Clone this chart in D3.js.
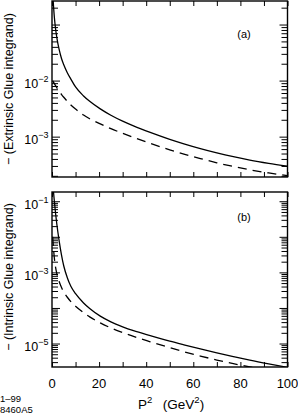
<!DOCTYPE html>
<html><head><meta charset="utf-8">
<script src="https://cdn.jsdelivr.net/npm/d3@7"></script>
<style>
body{margin:0;background:#fff;}
text{font-family:"Liberation Sans",Arial,Helvetica,sans-serif;fill:#000;}
</style></head>
<body><svg id="c" width="298" height="414"></svg>
<script>
// P^2 sample points (GeV^2)
const p2 = [0.3, 1, 1.5, 2, 3, 4, 5, 6.5, 8, 10, 13.4, 16, 20.5, 25, 30, 34.6, 41.7, 50, 56, 63, 70, 77, 84, 92, 100];
// (a) − Extrinsic glue integrand
const extrinsicSolid = [0.355, 0.135, 0.0851, 0.0603, 0.0363, 0.0251, 0.0191, 0.01377, 0.01062, 0.00769, 0.00532, 0.00427, 0.00313, 0.00241, 0.00189, 0.001556, 0.001189, 0.000895, 0.000745, 0.000612, 0.000513, 0.000438, 0.000381, 0.000333, 0.000296];
const extrinsicDashed = [0.00989, 0.00883, 0.00815, 0.00753, 0.0065, 0.00569, 0.00504, 0.00427, 0.00367, 0.0031, 0.00243, 0.00209, 0.00169, 0.00139, 0.001146, 0.000968, 0.00076, 0.000583, 0.00049, 0.000406, 0.000342, 0.000293, 0.000256, 0.000225, 0.000201];
// (b) − Intrinsic glue integrand
const intrinsicSolid = [0.316, 0.1, 0.0468, 0.024, 0.00794, 0.00316, 0.00151, 0.000708, 0.000407, 0.000251, 0.000138, 9.66e-5, 5.89e-5, 4.07e-5, 2.95e-5, 2.29e-5, 1.66e-5, 1.161e-5, 9.18e-6, 7.05e-6, 5.47e-6, 4.3e-6, 3.41e-6, 2.68e-6, 2.14e-6];
const intrinsicDashed = [0.01, 0.00251, 0.00141, 0.000955, 0.000562, 0.00038, 0.000282, 0.0002, 0.000151, 0.000112, 7.41e-5, 5.62e-5, 3.8e-5, 2.75e-5, 2.04e-5, 1.58e-5, 1.12e-5, 7.66e-6, 5.89e-6, 4.45e-6, 3.44e-6, 2.72e-6, 2.2e-6, 1.77e-6, 1.44e-6];
// tick labels
const xTicks = [0, 10, 20, 30, 40, 50, 60, 70, 80, 90, 100];
const xLabels = [0, 20, 40, 60, 80, 100];
const aLabelExp = [-2, -3];
const bLabelExp = [-1, -3, -5];

const svg = d3.select("#c");
const L = 52, R = 287.5;
const x = d3.scaleLinear().domain([0, 100]).range([L, R]);

function minorTicks(dom){
  const out = [];
  const lo = Math.floor(Math.log10(dom[0])), hi = Math.ceil(Math.log10(dom[1]));
  for (let e = lo; e <= hi; e++) for (let m = 2; m <= 9; m++) {
    const v = m * Math.pow(10, e);
    if (v >= dom[0] && v <= dom[1]) out.push(v);
  }
  return out;
}
function majorTicks(dom){
  const out = [];
  for (let e = Math.floor(Math.log10(dom[0])); e <= Math.ceil(Math.log10(dom[1])); e++) {
    const v = Math.pow(10, e);
    if (v >= dom[0] && v <= dom[1]) out.push(v);
  }
  return out;
}

function panel(top, bottom, yDom, solid, dashed, labelExp, tag, tagY, clipId){
  const y = d3.scaleLog().domain(yDom).range([bottom, top]);
  const g = svg.append("g");
  const clean = sel => { sel.select(".domain").remove(); sel.selectAll("line").attr("stroke","#000").attr("stroke-width",1); };
  // x ticks bottom & top
  g.append("g").attr("transform",`translate(0,${bottom})`)
    .call(d3.axisBottom(x).tickValues(xTicks).tickSize(-5).tickFormat(""))
    .call(clean).selectAll("text").remove();
  g.append("g").attr("transform",`translate(0,${top})`)
    .call(d3.axisTop(x).tickValues(xTicks).tickSize(-5).tickFormat(""))
    .call(clean).selectAll("text").remove();
  // y ticks left & right
  const mi = minorTicks(yDom), ma = majorTicks(yDom);
  [[d3.axisLeft, L],[d3.axisRight, R]].forEach(([ax, px]) => {
    g.append("g").attr("transform",`translate(${px},0)`)
      .call(ax(y).tickValues(mi).tickSize(-6).tickFormat("")).call(clean).selectAll("text").remove();
    g.append("g").attr("transform",`translate(${px},0)`)
      .call(ax(y).tickValues(ma).tickSize(-8).tickFormat("")).call(clean).selectAll("text").remove();
  });
  // y labels
  labelExp.forEach(e => {
    const t = g.append("text").attr("x", L - 3.5).attr("y", y(Math.pow(10, e)) + 7.5)
      .attr("text-anchor","end").style("font-size","12.5px");
    t.append("tspan").text("10");
    t.append("tspan").attr("dy",-6).style("font-size","9px").text("\u2212" + Math.abs(e));
  });
  // clip
  svg.append("clipPath").attr("id", clipId).append("rect")
    .attr("x", L).attr("y", top).attr("width", R - L).attr("height", bottom - top);
  const line = d3.line().x((d,i) => x(p2[i])).y(d => y(d)).curve(d3.curveMonotoneX);
  g.append("path").attr("clip-path",`url(#${clipId})`).attr("d", line(solid))
    .attr("fill","none").attr("stroke","#000").attr("stroke-width",1.3);
  g.append("path").attr("clip-path",`url(#${clipId})`).attr("d", line(dashed))
    .attr("fill","none").attr("stroke","#000").attr("stroke-width",1.3).attr("stroke-dasharray","9,6");
  // frame
  g.append("rect").attr("x", L).attr("y", top).attr("width", R - L).attr("height", bottom - top)
    .attr("fill","none").attr("stroke","#000").attr("stroke-width",1.4);
  g.append("text").attr("x", 244).attr("y", tagY).attr("text-anchor","middle")
    .style("font-size","11px").text(tag);
  return y;
}

panel(1, 177, [Math.pow(10,-3.72), Math.pow(10,-0.58)], extrinsicSolid, extrinsicDashed, aLabelExp, "(a)", 38, "ca");
panel(192, 367, [Math.pow(10,-5.66), Math.pow(10,-0.74)], intrinsicSolid, intrinsicDashed, bLabelExp, "(b)", 221, "cb");

// x labels
svg.append("g").selectAll("text").data(xLabels).join("text")
  .attr("x", d => x(d)).attr("y", 387.5).attr("text-anchor","middle")
  .style("font-size","13px").text(d => d);

// x title
const xt = svg.append("text").attr("x", 138).attr("y", 408.5).style("font-size","13.5px");
xt.append("tspan").text("P");
xt.append("tspan").attr("dy",-6).style("font-size","9.5px").text("2");
xt.append("tspan").attr("dy",6).text("\u2002 (GeV");
xt.append("tspan").attr("dy",-6).style("font-size","9.5px").text("2");
xt.append("tspan").attr("dy",6).text(")");

// y titles
svg.append("text").attr("transform","translate(13,89) rotate(-90)").attr("text-anchor","middle")
  .style("font-size","12.5px").text("\u2212 (Extrinsic Glue integrand)");
svg.append("text").attr("transform","translate(13,277) rotate(-90)").attr("text-anchor","middle")
  .style("font-size","12.5px").text("\u2212 (Intrinsic Glue integrand)");

// figure id
svg.append("text").attr("x",0).attr("y",402).style("font-size","9.5px").text("1\u201399");
svg.append("text").attr("x",0).attr("y",412.5).style("font-size","9.5px").text("8460A5");
</script></body></html>
